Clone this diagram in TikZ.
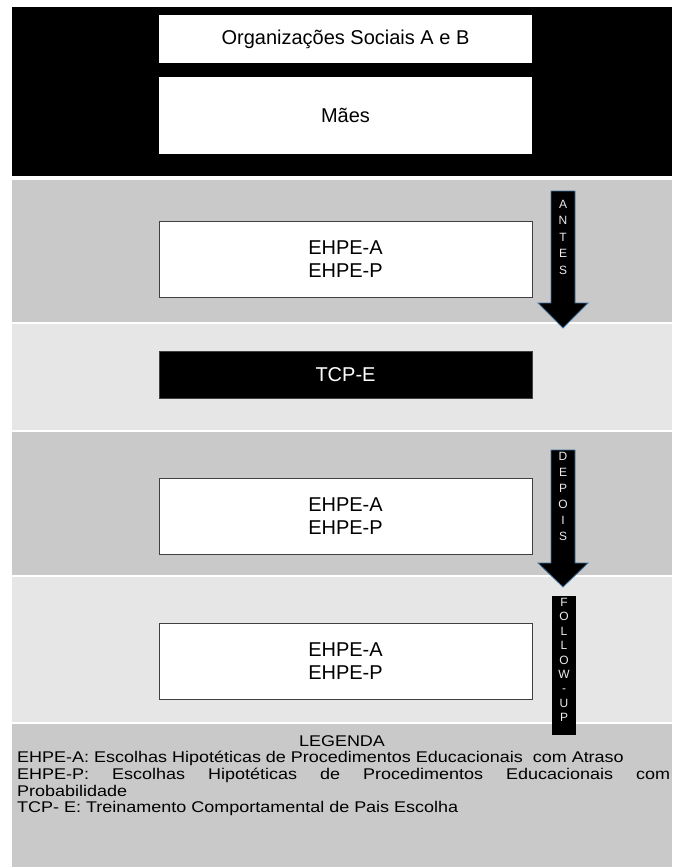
\documentclass[tikz,border=0pt]{standalone}
\usepackage{fontspec}
\setmainfont{Liberation Sans}
\newfontfamily\legfont[FakeStretch=1.16]{Liberation Sans}
\usetikzlibrary{positioning}
\definecolor{bandgray}{HTML}{C9C9C9}
\definecolor{bandlight}{HTML}{E6E6E6}
\definecolor{boxline}{HTML}{404040}
\definecolor{arrowline}{HTML}{41719C}

\begin{document}
\begin{tikzpicture}[x=1pt, y=-1pt]
			\tikzstyle{wbox} = [draw=boxline, line width=0.8pt, fill=white, rectangle, minimum width=373pt, inner sep=0pt, align=center, font=\fontsize{20}{23}\selectfont]
			\tikzstyle{topbox} = [wbox, draw=none]
			\tikzstyle{bbox} = [wbox, fill=black, text=white]
			\tikzstyle{blockarrow} = [fill=black, draw=arrowline, line width=0.8pt]
			\tikzstyle{arrowtext} = [text=white!92!black, align=center, inner sep=0pt, font=\fontsize{12}{16.5}\selectfont]
			\tikzstyle{legend} = [inner sep=0pt, font=\legfont\fontsize{15.5}{16.7}\selectfont]
			
			\useasboundingbox (0, 0) rectangle (672, 867);
			
			% bands
			\fill[black] 		(12, 7) rectangle (672, 176);
			\fill[bandgray] 	(12, 180) rectangle (672, 322);
			\fill[bandlight] 	(12, 324) rectangle (672, 430);
			\fill[bandgray] 	(12, 432) rectangle (672, 575);
			\fill[bandlight] 	(12, 577) rectangle (672, 722);
			\fill[bandgray] 	(12, 724) rectangle (672, 867);
			
			\node[topbox, minimum height=48pt] 	at (345.5, 39)		(org)	{Organizações Sociais A e B};
			\node[topbox, minimum height=77pt] 	at (345.5, 115.5)	(maes)	{Mães};
			\node[wbox, minimum height=76pt] 	at (345.5, 259)		(antes)	{EHPE-A\\EHPE-P};
			\node[bbox, minimum height=47pt] 	at (345.5, 374.5)	(tcp)	{TCP-E};
			\node[wbox, minimum height=76pt] 	at (345.5, 516)		(depois)	{EHPE-A\\EHPE-P};
			\node[wbox, minimum height=76pt] 	at (345.5, 661)		(follow)	{EHPE-A\\EHPE-P};
			
			% block arrows
			\draw[blockarrow] (551, 191) -- (575, 191) -- (575, 303) -- (588, 303) -- (563, 328) -- (538, 303) -- (551, 303) -- cycle;
			\draw[blockarrow] (551, 450) -- (575, 450) -- (575, 563) -- (588, 563) -- (563, 587) -- (538, 563) -- (551, 563) -- cycle;
			\fill[black] (552, 596) rectangle (576, 735);
			
			\node[arrowtext] at (563, 237)	(tantes)	{A\\N\\T\\E\\S};
			\node[arrowtext, font=\fontsize{12}{16}\selectfont] at (563, 496)	(tdepois)	{D\\E\\P\\O\\I\\S};
			\node[arrowtext, font=\fontsize{12}{14.4}\selectfont] at (564, 660)	(tfollow)	{F\\O\\L\\L\\O\\W\\-\\U\\P};
			
			% legend
			\node[legend] at (342, 741) (leg) {LEGENDA};
			\node[legend, anchor=north west, text width=653pt, align=justify] at (17, 751) (legtext)
				{EHPE-A: Escolhas Hipotéticas de Procedimentos Educacionais\ \ com Atraso\\
				 EHPE-P: Escolhas Hipotéticas de Procedimentos Educacionais com\linebreak Probabilidade\\
				 TCP- E: Treinamento Comportamental de Pais Escolha};
		\end{tikzpicture}
\end{document}
